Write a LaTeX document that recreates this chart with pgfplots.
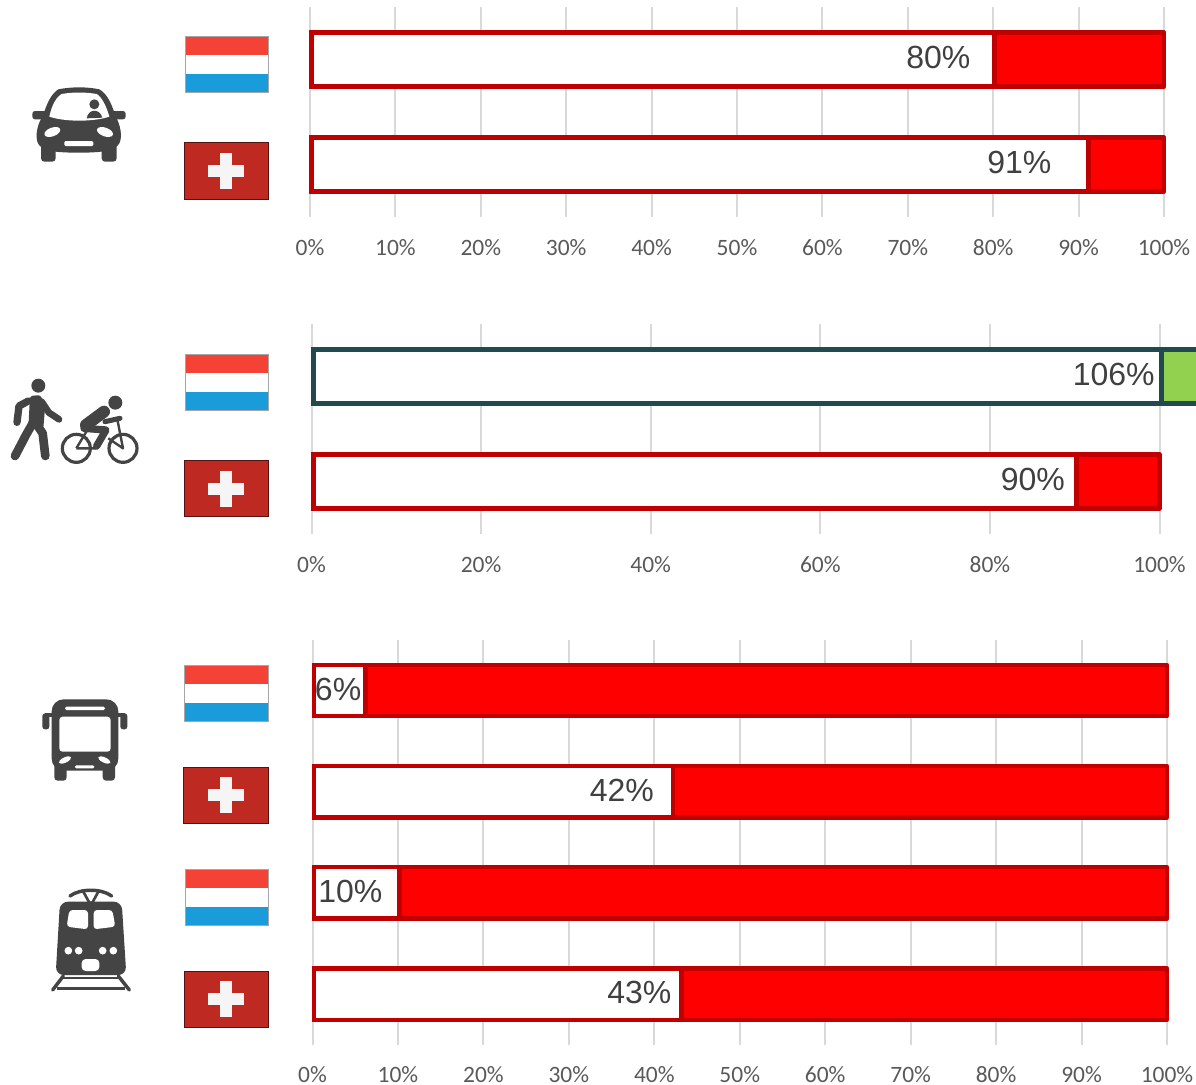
\documentclass[border=0pt]{standalone}
\usepackage{fontspec}
\setmainfont{Carlito}
\newfontfamily\barfont{Liberation Sans}
\usepackage{pgfplots}
\usepackage{pgfplotstable}
\pgfplotsset{compat=1.18}
\definecolor{barred}{HTML}{FF0000}
\definecolor{edgered}{HTML}{C00000}
\definecolor{barteal}{HTML}{22494E}
\definecolor{bargreen}{HTML}{92D050}
\definecolor{gridc}{HTML}{D9D9D9}
\definecolor{tickc}{HTML}{595959}
\definecolor{labc}{HTML}{404040}
\definecolor{icon}{HTML}{444444}
\definecolor{luxr}{HTML}{F44336}
\definecolor{luxb}{HTML}{1A9BDA}
\definecolor{chr}{HTML}{BE2A22}

% y val rest label shift(px from the end of the white bar to the end of the text)
\pgfplotstableread{
y val rest label shift
1 80 20 80 22
0 91 9 91 35
}\tabA
\pgfplotstableread{
y val rest label shift
0 90 10 90 9
}\tabBred
\pgfplotstableread{
y val rest label shift
1 100 6 106 4
}\tabBgreen
\pgfplotstableread{
y val rest label shift
3 6 94 6 2
2 42 58 42 17
1 10 90 10 15
0 43 57 43 8
}\tabC

\pgfplotsset{
  chartaxis/.style={
    scale only axis, xbar stacked, clip=false,
    xmin=0, xmax=100,
    axis line style={draw=none}, major tick length=0pt,
    ytick=\empty, xmajorgrids,
    grid style={gridc, line width=1.5pt},
    xticklabel={\pgfmathprintnumber[assume math mode=true]{\tick}\%},
    xticklabel style={font=\fontsize{17.6}{20}\selectfont, text=tickc, anchor=north, inner sep=0pt, yshift=-17pt},
  },
  % #1: half the length of one percent, in pt (stacked labels start from the middle of the bar)
  barlabels/.style={
    xshift=1.2pt,
    point meta=\thisrow{label},
    visualization depends on={\thisrow{shift}\as\labshift},
    visualization depends on={\thisrow{val}\as\labval},
    nodes near coords={\pgfmathprintnumber[assume math mode=true]{\pgfplotspointmeta}\%},
    every node near coord/.append style={font=\barfont\fontsize{24}{28}\selectfont, text=labc, anchor=east, inner sep=0pt, yshift=1.2pt, xshift=\labval*#1pt-\labshift*0.75pt},
  },
}

\newcommand\lux[3]{% x0, y0, y1 in px
  \begin{scope}[x=0.75pt,y=-0.75pt]
    \pgfmathsetmacro\ya{#2+(#3-#2)/3}\pgfmathsetmacro\yb{#2+2*(#3-#2)/3}
    \fill[luxr] (#1,#2) rectangle (268,\ya);
    \fill[white] (#1,\ya) rectangle (268,\yb);
    \fill[luxb] (#1,\yb) rectangle (268,#3);
    \draw[gray!70,line width=0.4pt] (#1,#2) rectangle (268,#3);
  \end{scope}}
\newcommand\swiss[3]{%
  \begin{scope}[x=0.75pt,y=-0.75pt]
    \fill[chr] (#1,#2) rectangle (268,#3);
    \draw[black!55!chr,line width=0.5pt] (#1,#2) rectangle (268,#3);
    \pgfmathsetmacro\cy{(#2+#3)/2}\pgfmathsetmacro\cx{(#1+268)/2}
    \fill[white!96!black] (\cx-18,\cy-6) rectangle (\cx+18,\cy+6);
    \fill[white!96!black] (\cx-6,\cy-18) rectangle (\cx+6,\cy+18);
  \end{scope}}

\begin{document}
\begin{tikzpicture}
\clip[use as bounding box] (0pt,0pt) rectangle (897pt,-813.75pt);

% --- Car / first chart
\begin{axis}[chartaxis, at={(232.5pt,-162.75pt)}, anchor=south west,
  width=640.5pt, height=157.5pt, ymin=-0.5, ymax=1.5, bar width=40.1pt,
  xtick={0,10,...,100}]
  \addplot[fill=white, draw=edgered, line width=3.6pt, barlabels=3.2025] table[x=val,y=y] {\tabA};
  \addplot[fill=barred, draw=edgered, line width=3.6pt, line join=round] table[x=rest,y=y] {\tabA};
\end{axis}

% --- Walking and cycling / second chart: two axes on one place, one stack each
\begin{axis}[chartaxis, at={(233.625pt,-400.5pt)}, anchor=south west,
  width=636pt, height=157.5pt, ymin=-0.5, ymax=1.5, bar width=40.1pt,
  xtick={0,20,...,100}]
  \addplot[fill=white, draw=edgered, line width=3.6pt, barlabels=3.18] table[x=val,y=y] {\tabBred};
  \addplot[fill=barred, draw=edgered, line width=3.6pt, line join=round] table[x=rest,y=y] {\tabBred};
\end{axis}
\begin{axis}[chartaxis, at={(233.625pt,-400.5pt)}, anchor=south west,
  width=636pt, height=157.5pt, ymin=-0.5, ymax=1.5, bar width=40.1pt,
  xtick=\empty, xmajorgrids=false]
  \addplot[fill=white, draw=barteal, line width=3.6pt, barlabels=3.18] table[x=val,y=y] {\tabBgreen};
  \addplot[fill=bargreen, draw=barteal, line width=3.6pt] table[x=rest,y=y] {\tabBgreen};
\end{axis}

% --- Bus and train / third chart
\begin{axis}[chartaxis, at={(234.375pt,-783.5pt)}, anchor=south west,
  width=640.875pt, height=303.5pt, ymin=-0.5, ymax=3.5, bar width=38.5pt,
  xtick={0,10,...,100},
  xticklabel style={yshift=0.9pt}]
  \addplot[fill=white, draw=edgered, line width=3.2pt, barlabels=3.2045] table[x=val,y=y] {\tabC};
  \addplot[fill=barred, draw=edgered, line width=3.2pt, line join=round] table[x=rest,y=y] {\tabC};
\end{axis}

% --- Flags
\lux{185}{36}{92.5}
\swiss{184}{142.5}{199.5}
\lux{185}{354}{410.5}
\swiss{184}{460.5}{516.5}
\lux{184}{665}{721.5}
\swiss{183.3}{767}{823.5}
\lux{185}{869}{925.5}
\swiss{184}{971}{1027.5}

% --- Icons, in 3x pixel coordinates
% Car
\begin{scope}[x=0.25pt,y=-0.25pt]
  \fill[icon,rounded corners=2pt] (97,333) rectangle (150,358);
  \fill[icon,rounded corners=2pt] (325,333) rectangle (377,358);
  \fill[icon,rounded corners=2.5pt] (123,430) rectangle (167,485);
  \fill[icon,rounded corners=2.5pt] (305,430) rectangle (350,485);
  \fill[icon] (175,268) .. controls (215,260) and (260,260) .. (298,268)
     .. controls (320,280) and (335,310) .. (345,345)
     .. controls (362,375) and (368,410) .. (358,430)
     .. controls (345,450) and (320,458) .. (236,458)
     .. controls (150,458) and (125,450) .. (114,430)
     .. controls (105,410) and (110,375) .. (130,345)
     .. controls (140,310) and (155,280) .. (175,268) -- cycle;
  \fill[white] (148,350) .. controls (155,315) and (170,290) .. (185,282)
     .. controls (220,276) and (255,276) .. (290,282)
     .. controls (305,290) and (320,320) .. (328,350)
     .. controls (280,366) and (195,366) .. (148,350) -- cycle;
  \fill[icon] (283,313) circle (15);
  \fill[icon] (260,355) .. controls (265,325) and (300,325) .. (307,353) -- cycle;
  \fill[white,rotate around={20:(157,396)}] (157,396) ellipse (25 and 13);
  \fill[white,rotate around={-20:(315,396)}] (315,396) ellipse (25 and 13);
  \fill[white,rounded corners=1pt] (193,423) rectangle (280,438);
\end{scope}
% Walker and cyclist
\begin{scope}[x=0.25pt,y=-0.25pt,shift={(0,1020)}]
  \fill[icon] (115,137) circle (21);
  \fill[icon,rounded corners=2pt] (90,168) -- (122,165) -- (135,205) -- (130,265) -- (85,265) -- cycle;
  \draw[icon,line width=5.5pt,line cap=round,line join=round] (85,183) -- (57,198) -- (51,247);
  \draw[icon,line width=5pt,line cap=round,line join=round] (125,185) -- (147,218) -- (177,238);
  \draw[icon,line width=6.5pt,line cap=round,line join=round] (98,250) -- (78,285) -- (45,348);
  \draw[icon,line width=6.5pt,line cap=round,line join=round] (108,250) -- (128,280) -- (136,348);
  \fill[icon] (346,188) circle (21);
  \draw[icon,line width=2.4pt] (229,325) circle (42);
  \draw[icon,line width=2.4pt] (369,325) circle (42);
  \draw[icon,line width=9pt,line cap=round] (312,215) -- (258,255);
  \draw[icon,line width=3.8pt,line cap=round,line join=round] (315,245) -- (360,235);
  \draw[icon,line width=5.5pt,line cap=round,line join=round] (252,265) -- (318,270) -- (290,318);
  \draw[icon,line width=1.8pt,line join=round] (229,325) -- (262,270) (229,325) -- (290,325) (352,238) -- (369,325) -- (325,295);
\end{scope}
% Bus
\begin{scope}[x=0.25pt,y=-0.25pt,shift={(0,1950)}]
  \fill[icon,rounded corners=9pt] (155,148) rectangle (355,362);
  \fill[icon,rounded corners=2.5pt] (163,340) rectangle (200,392);
  \fill[icon,rounded corners=2.5pt] (308,340) rectangle (345,392);
  \fill[icon,rounded corners=2pt] (127,190) rectangle (148,238);
  \fill[icon,rounded corners=2pt] (361,190) rectangle (382,238);
  \fill[icon] (135,190) rectangle (160,200);
  \fill[icon] (350,190) rectangle (375,200);
  \fill[white,rounded corners=2.5pt] (178,200) rectangle (332,305);
  \fill[white,rounded corners=1pt] (195,170) rectangle (315,180);
  \fill[white,rotate around={25:(195,330)}] (195,330) ellipse (20 and 8);
  \fill[white,rotate around={-25:(313,330)}] (313,330) ellipse (20 and 8);
  \fill[white,rounded corners=1pt] (225,346) rectangle (283,355);
\end{scope}
% Train
\begin{scope}[x=0.25pt,y=-0.25pt,shift={(0,1950)}]
  \draw[icon,line width=2.6pt,line cap=round] (210,738) .. controls (240,715) and (305,715) .. (335,738);
  \draw[icon,line width=2pt,line join=round] (250,725) -- (268,758) -- (277,758) -- (295,725);
  \fill[icon,rounded corners=6pt] (180,755) -- (365,755) -- (379,975) -- (167,975) -- cycle;
  \fill[white,rounded corners=2.5pt] (208,780) -- (264,780) -- (264,838) -- (200,830) -- cycle;
  \fill[white,rounded corners=2.5pt] (337,780) -- (281,780) -- (281,838) -- (346,830) -- cycle;
  \foreach \x in {205,236,308,340} \fill[white] (\x,902) circle (11.5);
  \fill[white,rounded corners=3pt] (245,927) rectangle (298,963);
  \draw[icon,line width=2.6pt,line cap=round] (190,978) -- (158,1020);
  \draw[icon,line width=2.6pt,line cap=round] (355,978) -- (388,1020);
  \draw[icon,line width=2.6pt] (170,1015) -- (376,1015);
  \draw[icon,line width=1.6pt] (190,984) -- (355,984);
\end{scope}
\end{tikzpicture}
\end{document}
